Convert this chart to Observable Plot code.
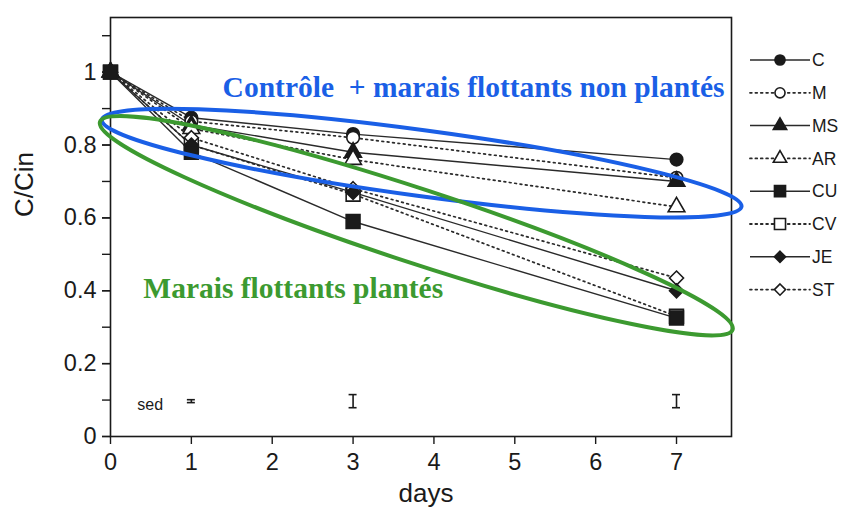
<!DOCTYPE html>
<html><head><meta charset="utf-8">
<script src="https://cdn.jsdelivr.net/npm/d3@7"></script>
<script src="https://cdn.jsdelivr.net/npm/@observablehq/plot@0.6"></script>
<style>body{margin:0;background:#fff} svg{display:block}</style>
</head><body><div id="chart"></div>
<script>
// ---- data ----
const days = [0, 1, 3, 7];
const seriesNames = ["C", "M", "MS", "AR", "CU", "CV", "JE", "ST"];
const C  = [1, 0.875, 0.83, 0.76];
const M  = [1, 0.865, 0.82, 0.71];
const MS = [1, 0.855, 0.78, 0.70];
const AR = [1, 0.845, 0.76, 0.63];
const CU = [1, 0.78, 0.59, 0.325];
const CV = [1, 0.80, 0.665, 0.33];
const JE = [1, 0.80, 0.67, 0.40];
const ST = [1, 0.82, 0.68, 0.435];
const seriesValues = [C, M, MS, AR, CU, CV, JE, ST];
const sedDays = [1, 3, 7];
const sedCenter = [0.097, 0.097, 0.097];
const sedHalf = [0.004, 0.018, 0.018];
const xTicks = [0, 1, 2, 3, 4, 5, 6, 7];
const yMinorTicks = [0, 0.1, 0.2, 0.3, 0.4, 0.5, 0.6, 0.7, 0.8, 0.9, 1, 1.1];
const yLabelTicks = [0, 0.2, 0.4, 0.6, 0.8, 1];
const blueNote = "Contrôle  + marais flottants non plantés";
const greenNote = "Marais flottants plantés";

// ---- styles ----
const symbolOf = {C:"circle", M:"circle", MS:"triangle", AR:"triangle", CU:"square", CV:"square", JE:"diamond2", ST:"diamond2"};
const filledOf = {C:true, M:false, MS:true, AR:false, CU:true, CV:false, JE:true, ST:false};
const rOf = {circle:6.3, triangle:6.2, square:7.8, diamond2:6.3};
const dotOrder = ["C", "M", "MS", "AR", "CV", "ST", "JE", "CU"];
const ink = "#1a1a1a";
const dash = "1.8,3.6";
const blue = "#1a5fe6", green = "#3c9a30";

const rows = seriesNames.flatMap((s, i) => days.map((d, j) => ({series: s, day: d, v: seriesValues[i][j]})));
const sed = sedDays.map((d, i) => ({day: d, lo: sedCenter[i] - sedHalf[i], hi: sedCenter[i] + sedHalf[i]}));

const marks = [
  Plot.axisY(yMinorTicks, {tickSize: 8, tickFormat: () => "", stroke: ink, strokeWidth: 1.4, label: null}),
  Plot.axisY(yLabelTicks, {tickSize: 8, tickPadding: 6, fontSize: 23.5, fill: ink, stroke: ink, strokeWidth: 1.4, label: null, tickFormat: d => String(d)}),
  Plot.axisX(xTicks, {tickSize: 8, tickPadding: 9, fontSize: 23.5, fill: ink, stroke: ink, strokeWidth: 1.4, label: null, tickFormat: d => String(d)}),
  Plot.frame({stroke: ink, strokeWidth: 1.6}),
  Plot.text(["C/Cin"], {frameAnchor: "left", dx: -86, dy: -10, rotate: -90, fontSize: 26, fill: ink}),
  Plot.text(["days"], {frameAnchor: "bottom", dy: 65, dx: 5, fontSize: 26, fill: ink}),
];
for (const s of seriesNames) {
  marks.push(Plot.line(rows.filter(r => r.series === s), {x: "day", y: "v", stroke: "#2a2a2a",
    strokeWidth: filledOf[s] ? 1.4 : 1.7,
    strokeDasharray: filledOf[s] ? null : dash, strokeLinecap: filledOf[s] ? "butt" : "round"}));
}
for (const s of dotOrder) {
  const sym = symbolOf[s];
  marks.push(Plot.dot(rows.filter(r => r.series === s), {x: "day", y: "v", symbol: sym, r: rOf[sym],
    fill: filledOf[s] ? ink : "white", stroke: ink, strokeWidth: 1.6}));
}
marks.push(
  Plot.ruleX(sed, {x: "day", y1: "lo", y2: "hi", stroke: ink, strokeWidth: 1.6}),
  Plot.ruleY(sed, {y: "lo", x1: "day", x2: "day", insetLeft: -4, insetRight: -4, stroke: ink, strokeWidth: 1.6}),
  Plot.ruleY(sed, {y: "hi", x1: "day", x2: "day", insetLeft: -4, insetRight: -4, stroke: ink, strokeWidth: 1.6}),
  Plot.text(["sed"], {x: 0.49, y: 0.088, fontSize: 16, fill: ink}),
  Plot.text([blueNote], {x: 4.49, y: 0.958, fontSize: 29.5, fontWeight: "bold", fontFamily: "Liberation Serif", fill: blue}),
  Plot.text([greenNote], {x: 2.26, y: 0.405, fontSize: 29.5, fontWeight: "bold", fontFamily: "Liberation Serif", fill: green})
);

const plot = Plot.plot({
  width: 843, height: 515,
  marginLeft: 110, marginRight: 112, marginTop: 17, marginBottom: 79,
  style: {fontFamily: "'Liberation Sans', Arial, sans-serif", background: "white", overflow: "visible"},
  x: {domain: [0, 7.68]},
  y: {domain: [0, 1.15]},
  marks
});
document.getElementById("chart").appendChild(plot);

// ---- annotations: hand-drawn ellipses and legend ----
const svg = d3.select(plot);
svg.selectAll("text").style("white-space", "pre");
const xs = plot.scale("x"), ys = plot.scale("y");
const ellipses = [
  {tip1: [-0.10, 0.868], tip2: [7.81, 0.630], minor: 33, color: blue},
  {tip1: [-0.124, 0.862], tip2: [7.70, 0.292], minor: 37, color: green}
];
for (const e of ellipses) {
  const x1 = xs.apply(e.tip1[0]), y1 = ys.apply(e.tip1[1]);
  const x2 = xs.apply(e.tip2[0]), y2 = ys.apply(e.tip2[1]);
  const cx = (x1 + x2) / 2, cy = (y1 + y2) / 2;
  const a = Math.hypot(x2 - x1, y2 - y1) / 2;
  const ang = Math.atan2(y2 - y1, x2 - x1) * 180 / Math.PI;
  svg.append("ellipse").attr("cx", 0).attr("cy", 0).attr("rx", a).attr("ry", e.minor)
    .attr("transform", `translate(${cx},${cy}) rotate(${ang})`)
    .attr("fill", "none").attr("stroke", e.color).attr("stroke-width", 4);
}
const lg = svg.append("g").attr("font-family", "'Liberation Sans', Arial, sans-serif").attr("font-size", 17.5).attr("text-anchor", "start");
seriesNames.forEach((s, i) => {
  const y = 60 + i * 32.8;
  lg.append("line").attr("x1", 750).attr("x2", 810).attr("y1", y).attr("y2", y)
    .attr("stroke", "#2a2a2a").attr("stroke-width", filledOf[s] ? 1.5 : 1.8)
    .attr("stroke-dasharray", filledOf[s] ? null : dash).attr("stroke-linecap", filledOf[s] ? "butt" : "round");
  const sym = symbolOf[s];
  const type = {circle: d3.symbolCircle, triangle: d3.symbolTriangle, square: d3.symbolSquare, diamond2: d3.symbolDiamond2}[sym];
  const rl = rOf[sym] * 0.8;
  lg.append("path").attr("d", d3.symbol(type, Math.PI * rl * rl)())
    .attr("transform", `translate(780,${y})`)
    .attr("fill", filledOf[s] ? ink : "white").attr("stroke", ink).attr("stroke-width", 1.6);
  lg.append("text").attr("x", 812).attr("y", y).attr("dy", "0.35em").attr("fill", ink).attr("text-anchor", "start").text(s);
});
</script></body></html>
